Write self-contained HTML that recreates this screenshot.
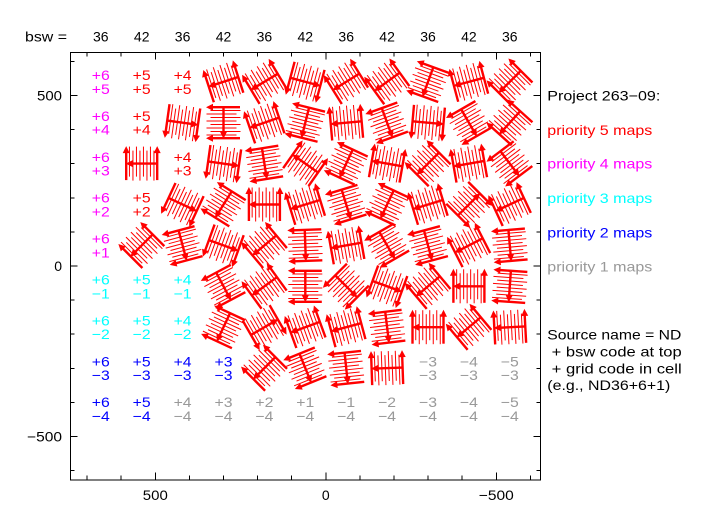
<!DOCTYPE html>
<html><head><meta charset="utf-8"><style>
html,body{margin:0;padding:0;background:#fff;}
svg{display:block;}
text{font-family:"Liberation Sans",sans-serif;font-size:14px;}
</style></head><body>
<svg width="711" height="522" viewBox="0 0 711 522" xmlns="http://www.w3.org/2000/svg">
<rect x="0" y="0" width="711" height="522" fill="#fff"/>
<defs>
<g id="g">
<g stroke="#ff0000" stroke-width="1" fill="none">
<line x1="-12.25" y1="-17" x2="-12.25" y2="13"/>
<line x1="-8.75" y1="-13" x2="-8.75" y2="17"/>
<line x1="-5.25" y1="-17" x2="-5.25" y2="13"/>
<line x1="-1.75" y1="-13" x2="-1.75" y2="17"/>
<line x1="1.75" y1="-17" x2="1.75" y2="13"/>
<line x1="5.25" y1="-13" x2="5.25" y2="17"/>
<line x1="8.75" y1="-17" x2="8.75" y2="13"/>
<line x1="12.25" y1="-13" x2="12.25" y2="17"/>
</g>
<g stroke="#ff0000" stroke-width="2.4" fill="none">
<line x1="-15.5" y1="16.5" x2="-15.5" y2="-12"/>
<line x1="15.5" y1="16.5" x2="15.5" y2="-12"/>
<line x1="15.5" y1="0" x2="-11" y2="0"/>
</g>
<g fill="#ff0000">
<polygon points="-15.5,-17.5 -19,-10.5 -12,-10.5"/>
<polygon points="15.5,-17.5 12,-10.5 19,-10.5"/>
<polygon points="-16,0 -9,-3.5 -9,3.5"/>
</g>
</g>
</defs>

<!-- glyphs -->
<g>
<use href="#g" transform="translate(223.5,81.8) rotate(-18)"/>
<use href="#g" transform="translate(264.4,81.8) rotate(-31)"/>
<use href="#g" transform="translate(305.3,81.8) rotate(195)"/>
<use href="#g" transform="translate(346.2,81.8) rotate(-32)"/>
<use href="#g" transform="translate(387.1,81.8) rotate(-36)"/>
<use href="#g" transform="translate(428.0,81.8) rotate(-70)"/>
<use href="#g" transform="translate(468.9,81.8) rotate(-15)"/>
<use href="#g" transform="translate(509.8,81.8) rotate(-45)"/>

<use href="#g" transform="translate(182.6,122.7) rotate(188)"/>
<use href="#g" transform="translate(223.5,122.7) rotate(-90)"/>
<use href="#g" transform="translate(264.4,122.7) rotate(-19)"/>
<use href="#g" transform="translate(305.3,122.7) rotate(-76)"/>
<use href="#g" transform="translate(346.2,122.7) rotate(-5)"/>
<use href="#g" transform="translate(387.1,122.7) rotate(-110)"/>
<use href="#g" transform="translate(428.0,122.7) rotate(185)"/>
<use href="#g" transform="translate(468.9,122.7) rotate(-120)"/>
<use href="#g" transform="translate(509.8,122.7) rotate(-48)"/>

<use href="#g" transform="translate(141.7,163.6) rotate(0)"/>
<use href="#g" transform="translate(223.5,163.6) rotate(188)"/>
<use href="#g" transform="translate(264.4,163.6) rotate(-99)"/>
<use href="#g" transform="translate(305.3,163.6) rotate(35)"/>
<use href="#g" transform="translate(346.2,163.6) rotate(-65)"/>
<use href="#g" transform="translate(387.1,163.6) rotate(10)"/>
<use href="#g" transform="translate(428.0,163.6) rotate(-45)"/>
<use href="#g" transform="translate(468.9,163.6) rotate(-10)"/>
<use href="#g" transform="translate(509.8,163.6) rotate(-127)"/>

<use href="#g" transform="translate(182.6,204.5) rotate(205)"/>
<use href="#g" transform="translate(223.5,204.5) rotate(-58)"/>
<use href="#g" transform="translate(264.4,204.5) rotate(0)"/>
<use href="#g" transform="translate(305.3,204.5) rotate(-17)"/>
<use href="#g" transform="translate(346.2,204.5) rotate(-107)"/>
<use href="#g" transform="translate(387.1,204.5) rotate(-65)"/>
<use href="#g" transform="translate(428.0,204.5) rotate(-17)"/>
<use href="#g" transform="translate(468.9,204.5) rotate(135)"/>
<use href="#g" transform="translate(509.8,204.5) rotate(-25)"/>

<use href="#g" transform="translate(141.7,245.4) rotate(-45)"/>
<use href="#g" transform="translate(182.6,245.4) rotate(-105)"/>
<use href="#g" transform="translate(223.5,245.4) rotate(200)"/>
<use href="#g" transform="translate(264.4,245.4) rotate(-40)"/>
<use href="#g" transform="translate(305.3,245.4) rotate(-92)"/>
<use href="#g" transform="translate(346.2,245.4) rotate(-10)"/>
<use href="#g" transform="translate(387.1,245.4) rotate(-120)"/>
<use href="#g" transform="translate(428.0,245.4) rotate(-105)"/>
<use href="#g" transform="translate(468.9,245.4) rotate(-27)"/>
<use href="#g" transform="translate(509.8,245.4) rotate(-95)"/>

<use href="#g" transform="translate(223.5,286.3) rotate(-118)"/>
<use href="#g" transform="translate(264.4,286.3) rotate(-36)"/>
<use href="#g" transform="translate(305.3,286.3) rotate(-90)"/>
<use href="#g" transform="translate(346.2,286.3) rotate(-135)"/>
<use href="#g" transform="translate(387.1,286.3) rotate(200)"/>
<use href="#g" transform="translate(428.0,286.3) rotate(-40)"/>
<use href="#g" transform="translate(468.9,286.3) rotate(0)"/>
<use href="#g" transform="translate(509.8,286.3) rotate(-86)"/>

<use href="#g" transform="translate(223.5,327.2) rotate(-65)"/>
<use href="#g" transform="translate(264.4,327.2) rotate(150)"/>
<use href="#g" transform="translate(305.3,327.2) rotate(-20)"/>
<use href="#g" transform="translate(346.2,327.2) rotate(-15)"/>
<use href="#g" transform="translate(387.1,327.2) rotate(-97)"/>
<use href="#g" transform="translate(428.0,327.2) rotate(0)"/>
<use href="#g" transform="translate(468.9,327.2) rotate(-40)"/>
<use href="#g" transform="translate(509.8,327.2) rotate(-3)"/>

<use href="#g" transform="translate(264.4,368.1) rotate(-45)"/>
<use href="#g" transform="translate(305.3,368.1) rotate(-112)"/>
<use href="#g" transform="translate(346.2,368.1) rotate(-96)"/>
<use href="#g" transform="translate(387.1,368.1) rotate(-2)"/>
</g>

<!-- axes box -->
<rect x="70.5" y="52.5" width="470" height="427.5" fill="none" stroke="#000" stroke-width="1.2" shape-rendering="crispEdges"/>
<g stroke="#000" stroke-width="1" shape-rendering="crispEdges">
<!-- bottom ticks -->
<line x1="87.1" y1="480" x2="87.1" y2="475.5"/><line x1="121.2" y1="480" x2="121.2" y2="475.5"/>
<line x1="155.3" y1="480" x2="155.3" y2="472.5"/><line x1="189.4" y1="480" x2="189.4" y2="475.5"/>
<line x1="223.5" y1="480" x2="223.5" y2="475.5"/><line x1="257.6" y1="480" x2="257.6" y2="475.5"/>
<line x1="291.7" y1="480" x2="291.7" y2="475.5"/><line x1="325.8" y1="480" x2="325.8" y2="472.5"/>
<line x1="359.9" y1="480" x2="359.9" y2="475.5"/><line x1="394" y1="480" x2="394" y2="475.5"/>
<line x1="428.1" y1="480" x2="428.1" y2="475.5"/><line x1="462.2" y1="480" x2="462.2" y2="475.5"/>
<line x1="496.3" y1="480" x2="496.3" y2="472.5"/><line x1="530.4" y1="480" x2="530.4" y2="475.5"/>
<!-- top ticks -->
<line x1="87.1" y1="52" x2="87.1" y2="56.5"/><line x1="121.2" y1="52" x2="121.2" y2="56.5"/>
<line x1="155.3" y1="52" x2="155.3" y2="59.5"/><line x1="189.4" y1="52" x2="189.4" y2="56.5"/>
<line x1="223.5" y1="52" x2="223.5" y2="56.5"/><line x1="257.6" y1="52" x2="257.6" y2="56.5"/>
<line x1="291.7" y1="52" x2="291.7" y2="56.5"/><line x1="325.8" y1="52" x2="325.8" y2="59.5"/>
<line x1="359.9" y1="52" x2="359.9" y2="56.5"/><line x1="394" y1="52" x2="394" y2="56.5"/>
<line x1="428.1" y1="52" x2="428.1" y2="56.5"/><line x1="462.2" y1="52" x2="462.2" y2="56.5"/>
<line x1="496.3" y1="52" x2="496.3" y2="59.5"/><line x1="530.4" y1="52" x2="530.4" y2="56.5"/>
<!-- left ticks -->
<line x1="70" y1="61.4" x2="74.5" y2="61.4"/><line x1="70" y1="95.5" x2="77.5" y2="95.5"/>
<line x1="70" y1="129.6" x2="74.5" y2="129.6"/><line x1="70" y1="163.7" x2="74.5" y2="163.7"/>
<line x1="70" y1="197.8" x2="74.5" y2="197.8"/><line x1="70" y1="231.9" x2="74.5" y2="231.9"/>
<line x1="70" y1="266" x2="77.5" y2="266"/><line x1="70" y1="300.1" x2="74.5" y2="300.1"/>
<line x1="70" y1="334.2" x2="74.5" y2="334.2"/><line x1="70" y1="368.3" x2="74.5" y2="368.3"/>
<line x1="70" y1="402.4" x2="74.5" y2="402.4"/><line x1="70" y1="436.5" x2="77.5" y2="436.5"/>
<line x1="70" y1="470.6" x2="74.5" y2="470.6"/>
<!-- right ticks -->
<line x1="541" y1="61.4" x2="536.5" y2="61.4"/><line x1="541" y1="95.5" x2="533.5" y2="95.5"/>
<line x1="541" y1="129.6" x2="536.5" y2="129.6"/><line x1="541" y1="163.7" x2="536.5" y2="163.7"/>
<line x1="541" y1="197.8" x2="536.5" y2="197.8"/><line x1="541" y1="231.9" x2="536.5" y2="231.9"/>
<line x1="541" y1="266" x2="533.5" y2="266"/><line x1="541" y1="300.1" x2="536.5" y2="300.1"/>
<line x1="541" y1="334.2" x2="536.5" y2="334.2"/><line x1="541" y1="368.3" x2="536.5" y2="368.3"/>
<line x1="541" y1="402.4" x2="536.5" y2="402.4"/><line x1="541" y1="436.5" x2="533.5" y2="436.5"/>
<line x1="541" y1="470.6" x2="536.5" y2="470.6"/>
</g>

<!-- axis labels -->
<g fill="#000">
<text x="62" y="100.5" text-anchor="end" textLength="25" lengthAdjust="spacingAndGlyphs">500</text>
<text x="62" y="271" text-anchor="end">0</text>
<text x="62" y="441.5" text-anchor="end" textLength="35" lengthAdjust="spacingAndGlyphs">−500</text>
<text x="155.3" y="500" text-anchor="middle" textLength="25" lengthAdjust="spacingAndGlyphs">500</text>
<text x="325.8" y="500" text-anchor="middle">0</text>
<text x="496.3" y="500" text-anchor="middle" textLength="35" lengthAdjust="spacingAndGlyphs">−500</text>
</g>

<!-- top bsw labels -->
<g fill="#000" text-anchor="middle">
<text x="25" y="41.7" text-anchor="start" textLength="42" lengthAdjust="spacingAndGlyphs">bsw =</text>
<text x="100.8" y="41.7">36</text><text x="141.7" y="41.7">42</text><text x="182.6" y="41.7">36</text>
<text x="223.5" y="41.7">42</text><text x="264.4" y="41.7">36</text><text x="305.3" y="41.7">42</text>
<text x="346.2" y="41.7">36</text><text x="387.1" y="41.7">42</text><text x="428.0" y="41.7">36</text>
<text x="468.9" y="41.7">42</text><text x="509.8" y="41.7">36</text>
</g>

<!-- grid labels -->
<g text-anchor="middle">
<g fill="#ff00ff">
<text x="100.8" y="80" textLength="18" lengthAdjust="spacingAndGlyphs">+6</text><text x="100.8" y="93.8" textLength="18" lengthAdjust="spacingAndGlyphs">+5</text>
<text x="100.8" y="120.9" textLength="18" lengthAdjust="spacingAndGlyphs">+6</text><text x="100.8" y="134.7" textLength="18" lengthAdjust="spacingAndGlyphs">+4</text>
<text x="100.8" y="161.8" textLength="18" lengthAdjust="spacingAndGlyphs">+6</text><text x="100.8" y="175.6" textLength="18" lengthAdjust="spacingAndGlyphs">+3</text>
<text x="100.8" y="202.7" textLength="18" lengthAdjust="spacingAndGlyphs">+6</text><text x="100.8" y="216.5" textLength="18" lengthAdjust="spacingAndGlyphs">+2</text>
<text x="100.8" y="243.6" textLength="18" lengthAdjust="spacingAndGlyphs">+6</text><text x="100.8" y="257.4" textLength="18" lengthAdjust="spacingAndGlyphs">+1</text>
</g>
<g fill="#ff0000">
<text x="141.7" y="80" textLength="18" lengthAdjust="spacingAndGlyphs">+5</text><text x="141.7" y="93.8" textLength="18" lengthAdjust="spacingAndGlyphs">+5</text>
<text x="182.6" y="80" textLength="18" lengthAdjust="spacingAndGlyphs">+4</text><text x="182.6" y="93.8" textLength="18" lengthAdjust="spacingAndGlyphs">+5</text>
<text x="141.7" y="120.9" textLength="18" lengthAdjust="spacingAndGlyphs">+5</text><text x="141.7" y="134.7" textLength="18" lengthAdjust="spacingAndGlyphs">+4</text>
<text x="182.6" y="161.8" textLength="18" lengthAdjust="spacingAndGlyphs">+4</text><text x="182.6" y="175.6" textLength="18" lengthAdjust="spacingAndGlyphs">+3</text>
<text x="141.7" y="202.7" textLength="18" lengthAdjust="spacingAndGlyphs">+5</text><text x="141.7" y="216.5" textLength="18" lengthAdjust="spacingAndGlyphs">+2</text>
</g>
<g fill="#00ffff">
<text x="100.8" y="284.5" textLength="18" lengthAdjust="spacingAndGlyphs">+6</text><text x="100.8" y="298.3" textLength="18" lengthAdjust="spacingAndGlyphs">−1</text>
<text x="141.7" y="284.5" textLength="18" lengthAdjust="spacingAndGlyphs">+5</text><text x="141.7" y="298.3" textLength="18" lengthAdjust="spacingAndGlyphs">−1</text>
<text x="182.6" y="284.5" textLength="18" lengthAdjust="spacingAndGlyphs">+4</text><text x="182.6" y="298.3" textLength="18" lengthAdjust="spacingAndGlyphs">−1</text>
<text x="100.8" y="325.4" textLength="18" lengthAdjust="spacingAndGlyphs">+6</text><text x="100.8" y="339.2" textLength="18" lengthAdjust="spacingAndGlyphs">−2</text>
<text x="141.7" y="325.4" textLength="18" lengthAdjust="spacingAndGlyphs">+5</text><text x="141.7" y="339.2" textLength="18" lengthAdjust="spacingAndGlyphs">−2</text>
<text x="182.6" y="325.4" textLength="18" lengthAdjust="spacingAndGlyphs">+4</text><text x="182.6" y="339.2" textLength="18" lengthAdjust="spacingAndGlyphs">−2</text>
</g>
<g fill="#0000ff">
<text x="100.8" y="366.3" textLength="18" lengthAdjust="spacingAndGlyphs">+6</text><text x="100.8" y="380.1" textLength="18" lengthAdjust="spacingAndGlyphs">−3</text>
<text x="141.7" y="366.3" textLength="18" lengthAdjust="spacingAndGlyphs">+5</text><text x="141.7" y="380.1" textLength="18" lengthAdjust="spacingAndGlyphs">−3</text>
<text x="182.6" y="366.3" textLength="18" lengthAdjust="spacingAndGlyphs">+4</text><text x="182.6" y="380.1" textLength="18" lengthAdjust="spacingAndGlyphs">−3</text>
<text x="223.5" y="366.3" textLength="18" lengthAdjust="spacingAndGlyphs">+3</text><text x="223.5" y="380.1" textLength="18" lengthAdjust="spacingAndGlyphs">−3</text>
<text x="100.8" y="407.2" textLength="18" lengthAdjust="spacingAndGlyphs">+6</text><text x="100.8" y="421" textLength="18" lengthAdjust="spacingAndGlyphs">−4</text>
<text x="141.7" y="407.2" textLength="18" lengthAdjust="spacingAndGlyphs">+5</text><text x="141.7" y="421" textLength="18" lengthAdjust="spacingAndGlyphs">−4</text>
</g>
<g fill="#999999">
<text x="428.0" y="366.3" textLength="18" lengthAdjust="spacingAndGlyphs">−3</text><text x="428.0" y="380.1" textLength="18" lengthAdjust="spacingAndGlyphs">−3</text>
<text x="468.9" y="366.3" textLength="18" lengthAdjust="spacingAndGlyphs">−4</text><text x="468.9" y="380.1" textLength="18" lengthAdjust="spacingAndGlyphs">−3</text>
<text x="509.8" y="366.3" textLength="18" lengthAdjust="spacingAndGlyphs">−5</text><text x="509.8" y="380.1" textLength="18" lengthAdjust="spacingAndGlyphs">−3</text>
<text x="182.6" y="407.2" textLength="18" lengthAdjust="spacingAndGlyphs">+4</text><text x="182.6" y="421" textLength="18" lengthAdjust="spacingAndGlyphs">−4</text>
<text x="223.5" y="407.2" textLength="18" lengthAdjust="spacingAndGlyphs">+3</text><text x="223.5" y="421" textLength="18" lengthAdjust="spacingAndGlyphs">−4</text>
<text x="264.4" y="407.2" textLength="18" lengthAdjust="spacingAndGlyphs">+2</text><text x="264.4" y="421" textLength="18" lengthAdjust="spacingAndGlyphs">−4</text>
<text x="305.3" y="407.2" textLength="18" lengthAdjust="spacingAndGlyphs">+1</text><text x="305.3" y="421" textLength="18" lengthAdjust="spacingAndGlyphs">−4</text>
<text x="346.2" y="407.2" textLength="18" lengthAdjust="spacingAndGlyphs">−1</text><text x="346.2" y="421" textLength="18" lengthAdjust="spacingAndGlyphs">−4</text>
<text x="387.1" y="407.2" textLength="18" lengthAdjust="spacingAndGlyphs">−2</text><text x="387.1" y="421" textLength="18" lengthAdjust="spacingAndGlyphs">−4</text>
<text x="428.0" y="407.2" textLength="18" lengthAdjust="spacingAndGlyphs">−3</text><text x="428.0" y="421" textLength="18" lengthAdjust="spacingAndGlyphs">−4</text>
<text x="468.9" y="407.2" textLength="18" lengthAdjust="spacingAndGlyphs">−4</text><text x="468.9" y="421" textLength="18" lengthAdjust="spacingAndGlyphs">−4</text>
<text x="509.8" y="407.2" textLength="18" lengthAdjust="spacingAndGlyphs">−5</text><text x="509.8" y="421" textLength="18" lengthAdjust="spacingAndGlyphs">−4</text>
</g>
</g>

<!-- legend -->
<text x="547.3" y="100.7" fill="#000" textLength="113" lengthAdjust="spacingAndGlyphs">Project 263−09:</text>
<text x="547.3" y="134.8" fill="#ff0000" textLength="105" lengthAdjust="spacingAndGlyphs">priority 5 maps</text>
<text x="547.3" y="168.6" fill="#ff00ff" textLength="105" lengthAdjust="spacingAndGlyphs">priority 4 maps</text>
<text x="547.3" y="203" fill="#00ffff" textLength="105" lengthAdjust="spacingAndGlyphs">priority 3 maps</text>
<text x="547.3" y="237.4" fill="#0000ff" textLength="105" lengthAdjust="spacingAndGlyphs">priority 2 maps</text>
<text x="547.3" y="271.6" fill="#999999" textLength="105" lengthAdjust="spacingAndGlyphs">priority 1 maps</text>
<text x="547.3" y="339.3" fill="#000" textLength="134" lengthAdjust="spacingAndGlyphs">Source name = ND</text>
<text x="551.7" y="356.5" fill="#000" textLength="130" lengthAdjust="spacingAndGlyphs">+ bsw code at top</text>
<text x="551.7" y="373.3" fill="#000" textLength="130" lengthAdjust="spacingAndGlyphs">+ grid code in cell</text>
<text x="547.3" y="390.2" fill="#000" textLength="123" lengthAdjust="spacingAndGlyphs">(e.g., ND36+6+1)</text>
</svg>
</body></html>
